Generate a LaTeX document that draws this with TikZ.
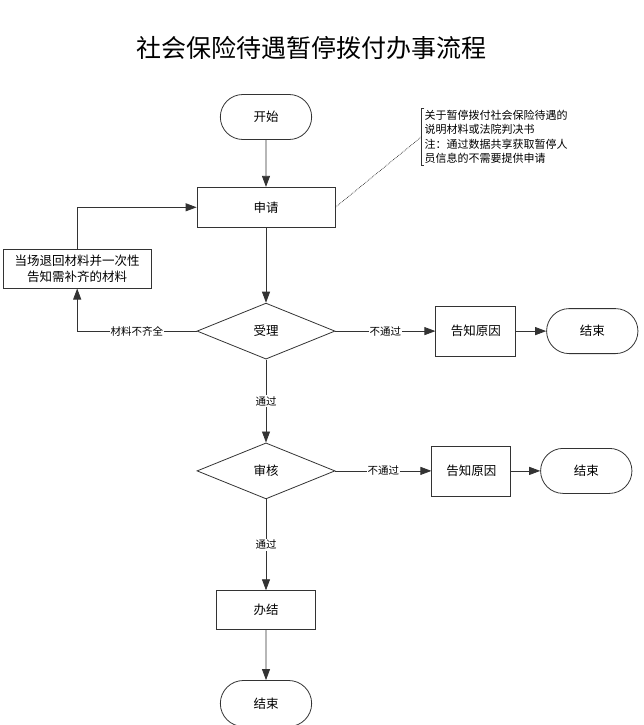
\documentclass[tikz,border=0pt]{standalone}
\usepackage{fontspec}
\setmainfont{Noto Sans CJK SC}
\usetikzlibrary{shapes.geometric,shapes.misc,arrows.meta,positioning}
\tikzset{
	termbox/.style={rounded rectangle, draw=black!80, line width=0.8pt,
		minimum width=98pt, minimum height=45pt, font=\fontsize{12.5}{15}\selectfont},
	procbox/.style={rectangle, draw=black!80, line width=0.8pt, align=center,
		inner sep=2pt, font=\fontsize{12.5}{15}\selectfont},
	decbox/.style={diamond, draw=black!80, line width=0.8pt, inner sep=0pt,
		minimum width=138pt, minimum height=56pt, font=\fontsize{12.5}{15}\selectfont},
	flowarr/.style={-{Triangle[length=11pt,width=8pt]}, line width=0.8pt, draw=black!80},
	edgelbl/.style={fill=white, inner sep=1pt, font=\fontsize{10.5}{12}\selectfont}
}

\begin{document}
\begin{tikzpicture}[x=1pt, y=1pt]
	\useasboundingbox (0,0) rectangle (644,-725);
	\node[font=\fontsize{25}{30}\selectfont] (title) at (311,-48) {社会保险待遇暂停拨付办事流程};
	\node[termbox] (start) at (266,-117) {开始};
	\node[procbox, below=47pt of start, minimum width=138pt, minimum height=40pt] (apply) {申请};
	\node[decbox, below=75pt of apply] (accept) {受理};
	\node[procbox, right=100pt of accept, minimum width=80pt, minimum height=50pt] (reason1) {告知原因};
	\node[termbox, right=30pt of reason1] (end1) {结束};
	\node[decbox, below=83pt of accept] (audit) {审核};
	\node[procbox, right=96pt of audit, minimum width=79pt, minimum height=50pt] (reason2) {告知原因};
	\node[termbox, right=29pt of reason2] (end2) {结束};
	\node[procbox, below=91pt of audit, minimum width=99pt, minimum height=39pt] (done) {办结};
	\node[termbox, below=50pt of done, minimum height=46pt] (end3) {结束};
	\node[procbox, below left=21pt and 45pt of apply, minimum width=148pt, minimum height=39pt,
		font=\fontsize{12.5}{16}\selectfont] (back) {当场退回材料并一次性\\告知需补齐的材料};
	% note with bracket
	\node[above right=22pt and 86pt of apply, align=left, inner xsep=3pt, inner ysep=1pt,
		font=\fontsize{11}{14.5}\selectfont] (note)
		{关于暂停拨付社会保险待遇的\\说明材料或法院判决书\\注：通过数据共享获取暂停人\\员信息的不需要提供申请};
	\draw[black!80, line width=0.8pt] ([xshift=3pt]note.north west) -- (note.north west)
		-- (note.south west) -- ([xshift=3pt]note.south west);
	\draw[black!85, densely dotted, line width=0.7pt] (apply.east) -- (note.west);
	% connectors
	\draw[flowarr] (start) -- (apply);
	\draw[flowarr] (apply) -- (accept);
	\draw[flowarr] (accept) -- node[edgelbl] {不通过} (reason1);
	\draw[flowarr] (reason1) -- (end1);
	\draw[flowarr] (accept) -- node[edgelbl] {通过} (audit);
	\draw[flowarr] (audit) -- node[edgelbl] {不通过} (reason2);
	\draw[flowarr] (reason2) -- (end2);
	\draw[flowarr] (audit) -- node[edgelbl] {通过} (done);
	\draw[flowarr] (done) -- (end3);
	\draw[flowarr] (accept.west) -| node[edgelbl, pos=0.25] {材料不齐全} (back.south);
	\draw[flowarr] (back.north) |- (apply.west);
\end{tikzpicture}
\end{document}
